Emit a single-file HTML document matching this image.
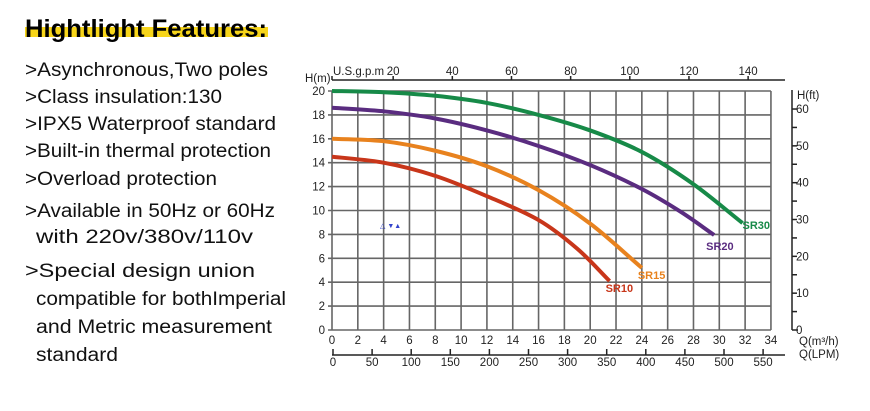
<!DOCTYPE html>
<html><head><meta charset="utf-8"><style>
html,body{margin:0;padding:0;background:#fff;}
svg{display:block;font-family:"Liberation Sans",Arial,sans-serif;}
</style></head><body>
<svg id="c" width="870" height="411" viewBox="0 0 870 411">
<g>
<rect x="25" y="27" width="243" height="10" fill="#f7d51a"/>
<text x="25" y="37" font-size="25" font-weight="bold" textLength="242" lengthAdjust="spacingAndGlyphs">Hightlight Features:</text>
<g font-size="19" fill="#111">
<text x="25" y="76" textLength="243" lengthAdjust="spacingAndGlyphs">&gt;Asynchronous,Two poles</text>
<text x="25" y="103" textLength="197" lengthAdjust="spacingAndGlyphs">&gt;Class insulation:130</text>
<text x="25" y="130" textLength="251" lengthAdjust="spacingAndGlyphs">&gt;IPX5 Waterproof standard</text>
<text x="25" y="157" textLength="246" lengthAdjust="spacingAndGlyphs">&gt;Built-in thermal protection</text>
<text x="25" y="185" textLength="192" lengthAdjust="spacingAndGlyphs">&gt;Overload protection</text>
<text x="25" y="217" textLength="250" lengthAdjust="spacingAndGlyphs">&gt;Available in 50Hz or 60Hz</text>
<text x="36" y="243" textLength="217" lengthAdjust="spacingAndGlyphs">with 220v/380v/110v</text>
<text x="25" y="277" textLength="230" lengthAdjust="spacingAndGlyphs">&gt;Special design union</text>
<text x="36" y="305" textLength="250" lengthAdjust="spacingAndGlyphs">compatible for bothImperial</text>
<text x="36" y="333" textLength="236" lengthAdjust="spacingAndGlyphs">and Metric  measurement</text>
<text x="36" y="361" textLength="82" lengthAdjust="spacingAndGlyphs">standard</text>
</g>
</g>
<g id="chart"></g>
</svg>
<script>
const qTicks=[0,2,4,6,8,10,12,14,16,18,20,22,24,26,28,30,32,34];
const hTicks=[0,2,4,6,8,10,12,14,16,18,20];
const lpmTicks=[0,50,100,150,200,250,300,350,400,450,500,550];
const gpmTicks=[20,40,60,80,100,120,140];
const ftTicks=[0,10,20,30,40,50,60];
const seriesNames=["SR30","SR20","SR15","SR10"];
const sr30Q=[0,4,8,12,16,20,24,28,31.8];
const sr30H=[20,19.9,19.6,19.0,18.0,16.7,14.9,12.2,8.95];
const sr20Q=[0,4,8,12,16,20,24,27,29.6];
const sr20H=[18.6,18.3,17.7,16.7,15.4,13.8,11.8,9.9,7.95];
const sr15Q=[0,4,8,12,16,20,24];
const sr15H=[16,15.8,15.0,13.7,11.7,8.9,5.2];
const sr10Q=[0,4,8,12,16,19,21.5];
const sr10H=[14.5,14.0,12.9,11.2,9.2,6.8,4.1];

const NS="http://www.w3.org/2000/svg";
const g=document.getElementById('chart');
const X=q=>332+q*12.91;
const Y=h=>330-h*11.95;
const XL=l=>333+l*0.782;
const XG=g2=>334+g2*2.958;
const YF=f=>330-f*3.683;
function mk(t,a,p){const e=document.createElementNS(NS,t);for(const k in a)e.setAttribute(k,a[k]);(p||g).appendChild(e);return e;}
function txt(x,y,s,a){const e=mk('text',Object.assign({x:x,y:y,'font-size':11.5,fill:'#222'},a||{}));e.textContent=s;return e;}
qTicks.forEach(q=>{const l=mk('line',{x1:X(q),x2:X(q),y1:Y(0),y2:Y(20),stroke:'#666','stroke-width':1.6});


const t=txt(X(q),344,String(q),{'text-anchor':'middle'});

});
hTicks.forEach(h=>{const l=mk('line',{x1:X(0)-4,x2:X(34),y1:Y(h),y2:Y(h),stroke:'#666','stroke-width':1.6});


const t=txt(X(0)-7,Y(h)+4,String(h),{'text-anchor':'end'});

});
let a=mk('line',{x1:332,x2:785,y1:355,y2:355,stroke:'#222','stroke-width':1.5});


lpmTicks.forEach(l=>{mk('line',{x1:XL(l),x2:XL(l),y1:349,y2:355,stroke:'#222','stroke-width':1.5});
const t=txt(XL(l),366,String(l),{'text-anchor':'middle'});

});
a=mk('line',{x1:332,x2:785,y1:80,y2:80,stroke:'#222','stroke-width':1.5});


mk('line',{x1:332,x2:332,y1:76,y2:80,stroke:'#222','stroke-width':1.5});
gpmTicks.forEach(v=>{mk('line',{x1:XG(v),x2:XG(v),y1:76,y2:80,stroke:'#222','stroke-width':1.5});
const t=txt(XG(v),75,String(v),{'text-anchor':'middle'});

});
let t=txt(333,75,'U.S.g.p.m',{});


t=txt(305,82,'H(m)',{});


a=mk('line',{x1:792,x2:792,y1:90,y2:330,stroke:'#222','stroke-width':1.5});


mk('line',{x1:792,x2:798,y1:330,y2:330,stroke:'#222','stroke-width':1.5});
for(let f=5;f<=60;f+=5){mk('line',{x1:792,x2:797,y1:YF(f),y2:YF(f),stroke:'#222','stroke-width':1.5});}
ftTicks.forEach(f=>{const t=txt(796,YF(f)+4,String(f),{});

});
t=txt(797,99,'H(ft)',{});


t=txt(799,345,'Q(m³/h)',{});


t=txt(799,358,'Q(LPM)',{});


t=txt(380,228,'△ ▼▲',{'font-size':7,fill:'#3344cc'});


const series=[[sr30Q,sr30H,'#178a48',0,6],[sr20Q,sr20H,'#5a2c80',-8,15],[sr15Q,sr15H,'#e8821e',-4,11],[sr10Q,sr10H,'#c8361a',-4,11]];
series.forEach((s,i)=>{
 const pts=s[0].map((q,j)=>[X(q),Y(s[1][j])]);
 let d='M'+pts[0][0]+','+pts[0][1];
 for(let j=0;j<pts.length-1;j++){const p0=pts[j-1]||pts[j],p1=pts[j],p2=pts[j+1],p3=pts[j+2]||[2*p2[0]-p1[0],2*p2[1]-p1[1]];
  d+=' C'+(p1[0]+(p2[0]-p0[0])/6)+','+(p1[1]+(p2[1]-p0[1])/6)+' '+(p2[0]-(p3[0]-p1[0])/6)+','+(p2[1]-(p3[1]-p1[1])/6)+' '+p2[0]+','+p2[1];}
 const p=mk('path',{d:d,fill:'none',stroke:s[2],'stroke-width':4});
 
 
 const e=pts[pts.length-1];
 const l=txt(e[0]+s[3],e[1]+s[4],seriesNames[i],{fill:s[2],'font-weight':'bold','font-size':11});
 
 
});
</script>
</body></html>
